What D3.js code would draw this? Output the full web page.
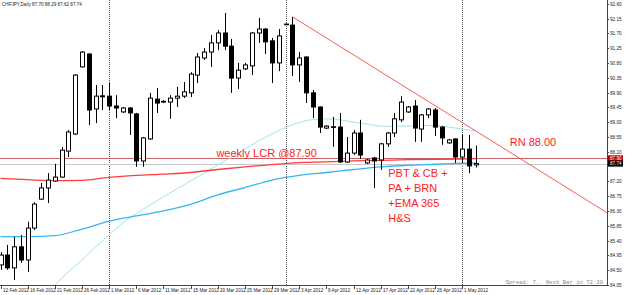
<!DOCTYPE html>
<html>
<head>
<meta charset="utf-8">
<script src="https://cdn.jsdelivr.net/npm/d3@7/dist/d3.min.js"></script>
<style>
  html, body { margin: 0; padding: 0; background: #fff; }
  svg { display: block; }
</style>
</head>
<body>
<svg id="drawing_region"></svg>
<script>
// CHFJPY daily bars, 12 Feb 2012 .. 2 May 2012 (index 0 = 12 Feb)
const opens = [
  84.66, 84.96, 84.57, 85.21, 84.81, 85.78, 86.66, 87.00, 87.21, 87.33,
  88.12, 88.64, 90.68, 91.07, 89.40, 89.80, 89.79, 89.49, 89.31, 89.43,
  89.25, 87.82, 88.49, 89.70, 89.61, 89.61, 89.73, 89.79, 89.89, 90.43,
  90.95, 91.13, 91.41, 91.71, 91.31, 90.34, 90.62, 90.71, 91.71, 91.83,
  91.47, 90.80, 91.97, 91.95, 90.74, 90.98, 89.89, 89.46, 88.82, 88.86,
  88.85, 87.79, 88.06, 88.67, 87.76, 87.91, 87.85, 88.34, 88.67, 89.07,
  89.31, 89.49, 88.79, 89.22, 89.37, 88.85, 88.37, 88.49, 87.94, 88.18, 87.70
];
const highs = [
  85.05, 85.27, 85.51, 85.57, 85.97, 86.57, 87.15, 87.45, 87.73, 88.25,
  88.76, 90.46, 91.16, 91.10, 90.13, 90.13, 90.19, 89.82, 89.46, 89.46,
  89.28, 88.55, 89.89, 90.04, 89.67, 89.82, 90.07, 90.22, 90.52, 91.10,
  91.25, 91.65, 91.80, 92.32, 91.53, 90.80, 90.80, 91.74, 92.17, 91.86,
  91.56, 91.83, 92.00, 92.20, 91.13, 91.00, 89.98, 89.48, 88.91, 89.16,
  89.28, 88.55, 88.76, 89.07, 87.88, 87.94, 88.37, 88.70, 89.28, 89.79,
  89.49, 89.67, 89.25, 89.43, 89.43, 88.88, 88.49, 88.50, 88.61, 88.61, 88.29
];
const lows = [
  84.51, 84.51, 84.20, 84.72, 84.45, 85.72, 86.63, 86.54, 87.19, 87.31,
  87.94, 88.61, 90.66, 88.91, 88.97, 89.37, 89.37, 89.12, 89.28, 88.61,
  87.64, 87.64, 88.46, 89.28, 89.58, 89.10, 89.46, 89.73, 89.76, 90.19,
  90.89, 90.68, 91.19, 91.19, 89.89, 90.01, 90.58, 90.43, 91.41, 91.07,
  90.19, 90.55, 91.95, 90.40, 90.22, 89.58, 89.12, 88.67, 88.79, 88.25,
  87.76, 87.76, 88.00, 87.88, 87.73, 86.99, 87.55, 88.25, 88.55, 89.00,
  89.28, 88.40, 88.40, 89.12, 88.58, 88.31, 88.34, 87.76, 87.76, 87.45, 87.62
];
const closes = [
  84.96, 84.57, 85.21, 84.81, 85.78, 86.51, 87.00, 87.24, 87.33, 88.15,
  88.70, 90.43, 91.13, 89.37, 89.79, 89.77, 89.49, 89.43, 89.43, 89.28,
  87.82, 88.52, 89.73, 89.58, 89.63, 89.73, 89.79, 89.92, 90.46, 90.98,
  91.13, 91.41, 91.71, 91.31, 90.34, 90.58, 90.74, 91.71, 91.83, 91.44,
  90.80, 91.62, 91.98, 90.74, 90.95, 89.89, 89.46, 88.85, 88.88, 88.85,
  87.79, 88.06, 88.67, 88.00, 87.85, 87.82, 88.34, 88.67, 89.10, 89.61,
  89.46, 88.82, 89.22, 89.40, 88.85, 88.52, 88.46, 87.94, 88.18, 87.67, 87.74
];

// moving averages, read at every 4th bar
const maIdx  = [0, 4, 8, 12, 16, 20, 24, 28, 32, 36, 40, 44, 48, 52, 56, 60, 64, 68, 70];
const maRed  = [87.29, 87.25, 87.22, 87.23, 87.32, 87.38, 87.42, 87.47, 87.56, 87.64,
                87.71, 87.77, 87.79, 87.82, 87.84, 87.86, 87.87, 87.88, 87.89];
const maBlue = [85.52, 85.52, 85.55, 85.75, 85.99, 86.15, 86.30, 86.50, 86.79, 87.01,
                87.24, 87.38, 87.47, 87.56, 87.64, 87.69, 87.72, 87.75, 87.76];
// faster average, every 2nd bar from bar 8
const maCyanIdx = [8, 10, 12, 14, 16, 18, 20, 22, 24, 26, 28, 30, 32, 34, 36, 38,
                   40, 42, 44, 46, 48, 50, 52, 54, 56, 58, 60, 62, 64, 66, 68, 70];
const maCyan = [84.05, 84.45, 84.81, 85.20, 85.57, 85.94, 86.22, 86.48, 86.73, 86.97,
                87.21, 87.45, 87.70, 87.93, 88.18, 88.43, 88.64, 88.84, 88.99, 89.08,
                89.10, 89.07, 89.00, 88.94, 88.88, 88.87, 88.88, 88.90, 88.90, 88.85,
                88.79, 88.73];

const dateLabels = ["12 Feb 2012", "16 Feb 2012", "21 Feb 2012", "26 Feb 2012", "1 Mar 2012",
                    "6 Mar 2012", "11 Mar 2012", "15 Mar 2012", "20 Mar 2012", "25 Mar 2012",
                    "29 Mar 2012", "3 Apr 2012", "8 Apr 2012", "12 Apr 2012", "17 Apr 2012",
                    "22 Apr 2012", "26 Apr 2012", "1 May 2012"];
const dateIdx = [0, 4, 8, 12, 16, 20, 24, 28, 32, 36, 40, 44, 48, 52, 56, 60, 64, 68];
const separatorIdx = [16, 42, 68];   // 1 Mar, 1 Apr, 1 May

const priceTicks = [92.60, 92.15, 91.70, 91.25, 90.80, 90.35, 89.90, 89.45, 89.00, 88.55,
                    88.10, 87.20, 86.75, 86.30, 85.85, 85.40, 84.95, 84.50, 84.05];

const lcrLevel = 87.90;
const bidLevel = 87.74;
const trendFrom = [43, 92.20];
const trendTo = [89.3, 86.25];

const notes = [
  { text: "weekly LCR @87.90", idx: 31.8, price: 87.94 },
  { text: "RN 88.00", idx: 75, price: 88.29 },
  { text: "PBT & CB +", idx: 57.1, price: 87.33 },
  { text: "PA + BRN", idx: 57.1, price: 86.87 },
  { text: "+EMA 365", idx: 57.1, price: 86.42 },
  { text: "H&S", idx: 57.1, price: 85.96 }
];

class CandleChart {
  constructor(config) {
    this.config = config;
    this.init();
  }

  init() {
    let self = this;
    const c = self.config;
    self.svg = d3.select(c.parent)
      .attr('width', c.width)
      .attr('height', c.height);

    self.x = d3.scaleLinear().domain([0, 70]).range([0.5, 475.8]);
    self.y = d3.scaleLinear().domain([84.05, 92.60]).range([285, 3.7]);

    self.svg.append('clipPath').attr('id', 'plot')
      .append('rect').attr('x', 0).attr('y', 0)
      .attr('width', c.plotRight).attr('height', c.plotBottom);
    self.plot = self.svg.append('g').attr('clip-path', 'url(#plot)');
  }

  render() {
    let self = this;
    const c = self.config, x = self.x, y = self.y, plot = self.plot;

    // month separators
    plot.selectAll('.sep').data(separatorIdx).enter().append('line')
      .attr('x1', d => Math.round(x(d)) + 0.5).attr('x2', d => Math.round(x(d)) + 0.5)
      .attr('y1', 0).attr('y2', c.plotBottom)
      .attr('stroke', '#555').attr('stroke-dasharray', '1,1');

    // price lines
    plot.append('line').attr('x1', 0).attr('x2', c.plotRight)
      .attr('y1', Math.round(y(bidLevel)) + 0.5).attr('y2', Math.round(y(bidLevel)) + 0.5)
      .attr('stroke', '#c8c8c8');
    plot.append('line').attr('x1', 0).attr('x2', c.plotRight)
      .attr('y1', Math.round(y(lcrLevel)) + 0.5).attr('y2', Math.round(y(lcrLevel)) + 0.5)
      .attr('stroke', '#c86464');

    // moving averages
    const maLine = (idx) => d3.line()
      .x((d, i) => x(idx[i])).y(d => y(d))
      .curve(d3.curveMonotoneX);
    plot.append('path').attr('d', maLine(maCyanIdx)(maCyan))
      .attr('fill', 'none').attr('stroke', '#9ee4ec').attr('stroke-width', 1);
    plot.append('path').attr('d', maLine(maIdx)(maBlue))
      .attr('fill', 'none').attr('stroke', '#38b4f4').attr('stroke-width', 1.3);
    plot.append('path').attr('d', maLine(maIdx)(maRed))
      .attr('fill', 'none').attr('stroke', '#ff3c3c').attr('stroke-width', 1.3);

    // candles
    const bars = plot.selectAll('.bar').data(opens).enter().append('g');
    bars.append('line')
      .attr('x1', (d, i) => Math.round(x(i)) + 0.5).attr('x2', (d, i) => Math.round(x(i)) + 0.5)
      .attr('y1', (d, i) => y(highs[i])).attr('y2', (d, i) => y(lows[i]))
      .attr('stroke', '#000');
    bars.append('rect')
      .attr('x', (d, i) => Math.round(x(i)) - 1.5)
      .attr('y', (d, i) => y(Math.max(opens[i], closes[i])))
      .attr('width', 4)
      .attr('height', (d, i) => Math.max(0.6, Math.abs(y(opens[i]) - y(closes[i]))))
      .attr('fill', (d, i) => closes[i] >= opens[i] ? '#fff' : '#000')
      .attr('stroke', '#000').attr('stroke-width', 1);

    // trend line
    plot.append('line')
      .attr('x1', x(trendFrom[0])).attr('y1', y(trendFrom[1]))
      .attr('x2', x(trendTo[0])).attr('y2', y(trendTo[1]))
      .attr('stroke', '#ff5a5a').attr('stroke-width', 1);

    // notes
    self.svg.selectAll('.note').data(notes).enter().append('text')
      .attr('x', d => x(d.idx)).attr('y', d => y(d.price))
      .attr('fill', '#ff1a1a')
      .style('font-family', '"Liberation Sans", Arial, sans-serif')
      .style('font-size', '11px')
      .text(d => d.text);

    // axes frame
    self.svg.append('line').attr('x1', c.plotRight + 0.5).attr('x2', c.plotRight + 0.5)
      .attr('y1', 0).attr('y2', c.plotBottom + 0.5).attr('stroke', '#444');
    self.svg.append('line').attr('x1', 0).attr('x2', c.plotRight + 0.5)
      .attr('y1', c.plotBottom + 0.5).attr('y2', c.plotBottom + 0.5).attr('stroke', '#444');

    const small = s => s.style('font-family', '"Liberation Sans", Arial, sans-serif')
      .style('font-size', '4.6px').attr('fill', '#222');

    // price axis
    const yt = self.svg.selectAll('.yt').data(priceTicks).enter().append('g')
      .attr('transform', d => `translate(${c.plotRight}, ${Math.round(y(d)) + 0.5})`);
    yt.append('line').attr('x1', 0).attr('x2', 2).attr('stroke', '#444');
    yt.append('text').attr('x', 3).attr('y', 1.6).call(small).text(d => d.toFixed(2));

    // current price boxes
    const boxes = [{ v: lcrLevel, fill: '#b40000' }, { v: bidLevel, fill: '#000' }];
    const bx = self.svg.selectAll('.bx').data(boxes).enter().append('g')
      .attr('transform', d => `translate(${c.plotRight + 1}, ${y(d.v)})`);
    bx.append('rect').attr('x', 0).attr('y', -3).attr('width', 15).attr('height', 6)
      .attr('fill', d => d.fill);
    bx.append('text').attr('x', 2).attr('y', 1.7).call(small).attr('fill', '#fff')
      .text(d => d.v.toFixed(2));

    // date axis
    const xt = self.svg.selectAll('.xt').data(dateIdx).enter().append('g')
      .attr('transform', d => `translate(${Math.round(x(d)) + 0.5}, ${c.plotBottom})`);
    xt.append('line').attr('y1', 0).attr('y2', 4).attr('stroke', '#444');
    xt.append('text').attr('x', 1.5).attr('y', 7).call(small).text((d, i) => dateLabels[i]);

    // header and status text
    self.svg.append('text').attr('x', 2).attr('y', 5.5).call(small)
      .text('CHFJPY,Daily  87.70 88.29 87.62 87.74');
    self.svg.append('text').attr('x', 603).attr('y', 283.5)
      .attr('text-anchor', 'end')
      .style('font-family', '"Liberation Mono", "DejaVu Sans Mono", monospace')
      .style('font-size', '5.6px').attr('fill', '#888')
      .text('Spread: 7.. Next Bar in 72:30');
  }
}

const chart = new CandleChart({
  parent: '#drawing_region',
  width: 625,
  height: 295,
  plotRight: 607,
  plotBottom: 285
});
chart.render();
</script>
</body>
</html>
